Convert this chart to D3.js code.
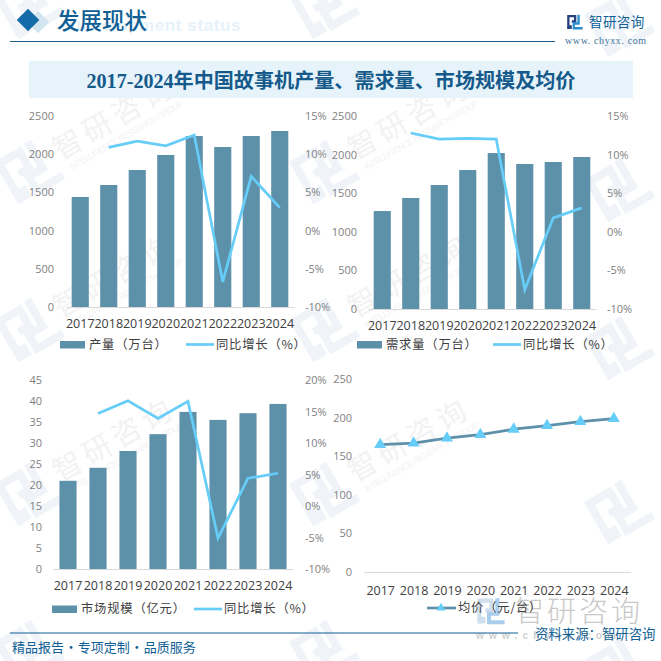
<!DOCTYPE html>
<html lang="zh">
<head>
<meta charset="UTF-8">
<title>发展现状</title>
<script src="https://d3js.org/d3.v7.min.js"></script>
<style>
  html, body { margin: 0; padding: 0; background: #fff; }
  svg { display: block; }
  text { font-family: "Noto Sans CJK SC", sans-serif; }
  .num text, text.num { font-family: "Open Sans", "Noto Sans CJK SC", sans-serif; }
</style>
</head>
<body>
<script>
const years = ["2017","2018","2019","2020","2021","2022","2023","2024"];

const output = [1440,1597,1793,1990,2238,2094,2238,2304];
const outputYoy = [null,10.9,11.7,11.1,12.5,-6.7,7.1,3.0];
const demand = [1269,1438,1606,1800,2020,1878,1904,1969];
const demandYoy = [null,12.8,12.0,12.1,12.0,-7.5,1.8,3.1];
const market = [21.0,24.1,28.1,32.1,37.4,35.5,37.1,39.3];
const marketYoy = [null,14.7,16.7,13.9,16.6,-5.1,4.4,5.2];
const price = [165,167,173.5,178,185,189.6,194.8,198.7];

const ticks2500 = [0,500,1000,1500,2000,2500];
const ticks45 = [0,5,10,15,20,25,30,35,40,45];
const ticks250 = [0,50,100,150,200,250];
const pctTicks15 = [-10,-5,0,5,10,15];
const pctTicks20 = [-10,-5,0,5,10,15,20];

const barColor = "#5d90a9", lineColor = "#66cdf8", blue = "#0f5f95";

const svg = d3.select("body").append("svg").attr("width",661).attr("height",661);

function logo(g, c1, c2, w) {
  g.append("path").attr("d","M2 22V3H12V11H7").attr("fill","none").attr("stroke",c1).attr("stroke-width",w);
  g.append("path").attr("d","M1 16.5H7V22H1Z").attr("fill",c1);
  g.append("path").attr("d","M17 1V14H10V21H23").attr("fill","none").attr("stroke",c2).attr("stroke-width",w);
}

// watermark
const wm = svg.append("g");
[30,325,620].forEach((cx,ci) => {
  [5,170,328,492,650].forEach((cy,ri) => {
    const u = wm.append("g").attr("transform",`translate(${cx},${cy + (ci==2 ? 18 : 0)}) rotate(-30)`);
    logo(u.append("g").attr("transform","translate(-28,-28) scale(2.35)"), "#f0f4f9", "#f0f4f9", 3.4);
    if (ri == 0 || ri == 4 || ci == 2) return;
    u.append("text").attr("x",31).attr("y",7).attr("font-size",29).attr("letter-spacing",5).attr("fill","#f2f2f2").text("智研咨询");
    u.append("text").attr("x",36).attr("y",21).attr("font-size",9).attr("textLength",130).attr("fill","#f4f4f4")
      .style("font-family","'Liberation Sans'").text("INTELLIGENCE RESEARCH GROUP");
  });
});

// header
svg.append("rect").attr("x",-8).attr("y",-8).attr("width",16).attr("height",16).attr("fill","#d3e5f1")
  .attr("transform","translate(38,22) rotate(45)");
svg.append("rect").attr("x",-8).attr("y",-8).attr("width",16).attr("height",16).attr("fill","#136ba8")
  .attr("transform","translate(28,20) rotate(45)");
svg.append("text").attr("x",241).attr("y",31).attr("text-anchor","end").attr("font-size",17).attr("font-weight",700)
  .attr("letter-spacing",0.6).attr("fill","#e6f2fb").style("font-family","'Liberation Sans'").text("Development status");
svg.append("text").attr("x",57).attr("y",29).attr("font-size",22.5).attr("font-weight",500).attr("fill",blue).text("发展现状");
svg.append("line").attr("x1",10).attr("x2",555).attr("y1",41.5).attr("y2",41.5).attr("stroke","#1a5f8c").attr("stroke-width",1);
logo(svg.append("g").attr("transform","translate(567,14) scale(0.68)"), "#27407f", "#2a8fd0", 3.4);
svg.append("text").attr("x",589).attr("y",27).attr("font-size",13.5).attr("letter-spacing",0.4).attr("fill",blue).text("智研咨询");
svg.append("text").attr("x",565).attr("y",44).attr("font-size",10).attr("letter-spacing",0.6).attr("fill","#3f7499")
  .style("font-family","'Liberation Serif'").text("www. chyxx. com");

svg.append("rect").attr("x",29).attr("y",61).attr("width",604).attr("height",37).attr("fill","#e6f3fb");
svg.append("text").attr("x",331).attr("y",88).attr("text-anchor","middle").attr("font-size",20.1).attr("font-weight",700)
  .attr("fill","#155a8a").style("font-family","'Liberation Serif','Noto Sans CJK SC'").text("2017-2024年中国故事机产量、需求量、市场规模及均价");

function xAxis(x, yPos, size, pad) {
  const g = svg.append("g").attr("class","num").attr("transform",`translate(0,${yPos})`)
    .call(d3.axisBottom(x).tickSize(0).tickPadding(pad));
  g.select(".domain").attr("stroke","#d9d9d9");
  g.selectAll("text").attr("font-size",size).attr("fill","#404040");
}

function yAxis(axis, xPos) {
  const g = svg.append("g").attr("class","num").attr("transform",`translate(${xPos},0)`).call(axis);
  g.select(".domain").remove();
  g.selectAll("text").attr("font-size",11).attr("fill","#7f7f7f");
}

function legendText(x, y, label) {
  svg.append("text").attr("x",x).attr("y",y).attr("dy","0.36em").attr("font-size",12.3).attr("letter-spacing",0.8).attr("fill","#404040").text(label);
}

// bar + yoy line panel
function combo(o) {
  const x = d3.scaleBand().domain(years).range(o.xr).paddingInner(o.pad).paddingOuter(o.pad/2);
  const y = d3.scaleLinear().domain([0,d3.max(o.ticks)]).range(o.yr);
  const y2 = d3.scaleLinear().domain(d3.extent(o.pct)).range(o.yr);
  yAxis(d3.axisLeft(y).tickValues(o.ticks).tickSize(0).tickPadding(0).tickFormat(d => d), o.leftX);
  yAxis(d3.axisRight(y2).tickValues(o.pct).tickSize(0).tickPadding(0).tickFormat(d => d + "%"), o.rightX);
  svg.append("g").selectAll("rect").data(o.bars).join("rect")
    .attr("x",(d,i) => x(years[i])).attr("width",x.bandwidth())
    .attr("y",d => y(d)).attr("height",d => y(0) - y(d)).attr("fill",barColor);
  xAxis(x, o.yr[0], o.tickSize, 12);
  const line = d3.line().defined(d => d != null).x((d,i) => x(years[i]) + x.bandwidth()/2).y(d => y2(d));
  svg.append("path").attr("d",line(o.yoy)).attr("fill","none").attr("stroke",lineColor).attr("stroke-width",2.7);
  const L = o.legend;
  svg.append("rect").attr("x",L.x).attr("y",L.y-3.5).attr("width",25).attr("height",7.5).attr("fill",barColor);
  legendText(L.x+29, L.y, o.label);
  svg.append("line").attr("x1",L.lx).attr("x2",L.lx+28).attr("y1",L.y).attr("y2",L.y).attr("stroke",lineColor).attr("stroke-width",2.7);
  legendText(L.lx+30, L.y, "同比增长（%）");
}

combo({bars:output, yoy:outputYoy, ticks:ticks2500, pct:pctTicks15, label:"产量（万台）",
  xr:[66,294], yr:[307,116], pad:0.4, leftX:54, rightX:305, tickSize:12.5, legend:{x:60,y:344.5,lx:186}});
combo({bars:demand, yoy:demandYoy, ticks:ticks2500, pct:pctTicks15, label:"需求量（万台）",
  xr:[368,596], yr:[309,116], pad:0.4, leftX:357, rightX:607, tickSize:12.5, legend:{x:357,y:344.5,lx:493}});
combo({bars:market, yoy:marketYoy, ticks:ticks45, pct:pctTicks20, label:"市场规模（亿元）",
  xr:[53,293], yr:[569,380], pad:0.43, leftX:42, rightX:305, tickSize:12.5, legend:{x:52,y:609,lx:194}});

// big footer watermark sits under the last panel's legend
const big = svg.append("g");
logo(big.append("g").attr("transform","translate(477,597) scale(1.2)"), "#cfdfee", "#a9cdec", 3.4);
big.append("text").attr("x",515).attr("y",622).attr("font-size",29).attr("letter-spacing",3).attr("font-weight",300).attr("fill","#c9c9c9").text("智研咨询");
big.append("text").attr("x",476).attr("y",639).attr("font-size",10).attr("letter-spacing",5.2).attr("font-weight",700).attr("fill","#cfcfcf")
  .style("font-family","'Liberation Sans'").text("www.chyxx.com");

// average price panel
const xp = d3.scalePoint().domain(years).range([363.5,630.5]).padding(0.5);
const yp = d3.scaleLinear().domain([0,250]).range([572,379]);
yAxis(d3.axisLeft(yp).tickValues(ticks250).tickSize(0).tickPadding(0), 352);
xAxis(xp, 572, 12.5, 14);
svg.append("path").attr("fill","none").attr("stroke",barColor).attr("stroke-width",2.7)
  .attr("d",d3.line().x((d,i) => xp(years[i])).y(d => yp(d))(price));
const tri = d3.symbol().type(d3.symbolTriangle).size(62);
svg.append("g").selectAll("path").data(price).join("path").attr("d",tri).attr("fill",lineColor)
  .attr("transform",(d,i) => `translate(${xp(years[i])},${yp(d)})`);
svg.append("line").attr("x1",427).attr("x2",456).attr("y1",608).attr("y2",608).attr("stroke",barColor).attr("stroke-width",2.7);
svg.append("path").attr("d",tri).attr("fill",lineColor).attr("transform","translate(441,608) scale(0.75)");
legendText(458, 608, "均价（元/台）");

// footer
svg.append("line").attr("x1",10).attr("x2",518).attr("y1",633).attr("y2",633).attr("stroke",blue).attr("stroke-width",1);
svg.append("text").attr("x",12).attr("y",652).attr("font-size",13).attr("word-spacing",-2.5).attr("fill",blue).text("精品报告 · 专项定制 · 品质服务");
svg.append("text").attr("x",535).attr("y",639).attr("font-size",13.4).attr("fill",blue).text("资料来源：智研咨询");
</script>
</body>
</html>
